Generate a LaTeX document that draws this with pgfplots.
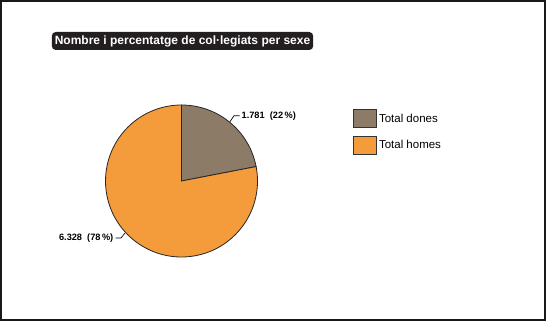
\documentclass[border=0pt]{standalone}
\usepackage{pgfplots}
\pgfplotsset{compat=1.18}
\usepackage{fontspec}
\setmainfont{Liberation Sans}
\definecolor{dones}{HTML}{8B7B67}
\definecolor{homes}{HTML}{F49B3C}
\definecolor{titlebg}{HTML}{231F20}
\begin{document}
\begin{tikzpicture}[x=1pt,y=1pt]
\def\dones{1781}
\def\homes{6328}
\pgfmathsetmacro\fracD{\dones/(\dones+\homes)}
\pgfmathsetmacro\angD{360*\fracD}
\pgfmathsetmacro\endD{90-\angD}
\draw[line width=2pt, black!90] (1,1) rectangle (545,320);
\begin{axis}[
  at={(0,0)}, anchor=south west,
  scale only axis, width=546pt, height=321pt,
  xmin=0, xmax=546, ymin=0, ymax=321,
  hide axis, clip=false,
  legend image code/.code={\draw[#1] (0pt,-9pt) rectangle (23pt,9pt);},
  legend cell align=left,
  legend style={at={(axis cs:353,212)}, anchor=north west, draw=none, fill=none,
    inner sep=0pt, row sep=8pt, column sep=2pt,
    nodes={inner sep=0pt, anchor=west},
    font=\fontsize{11.5}{13}\selectfont},
]
\addlegendimage{fill=dones, draw=black!80, line width=0.8pt}
\addlegendentry{Total dones}
\addlegendimage{fill=homes, draw=black!80, line width=0.8pt}
\addlegendentry{Total homes}
% pie slices from the data values
\filldraw[fill=dones, draw=black!85, line width=0.8pt]
  (axis cs:181.5,140) -- ++(90:76) arc[start angle=90, end angle=\endD, radius=76] -- cycle;
\filldraw[fill=homes, draw=black!85, line width=0.8pt]
  (axis cs:181.5,140) -- ++(\endD:76) arc[start angle=\endD, end angle=-270, radius=76] -- cycle;
% leader lines and labels
\draw[black, line width=0.7pt] (axis cs:230,199.3) -- (axis cs:234,205.3) -- (axis cs:239.5,205.3);
\node[anchor=west, inner sep=0pt, font=\fontsize{9.2}{10}\selectfont\bfseries] at (axis cs:241.5,205.3) {1.781\ \ (22\,\%)};
\draw[black, line width=0.7pt] (axis cs:125,88) -- (axis cs:121,83) -- (axis cs:115.5,83);
\node[anchor=east, inner sep=0pt, font=\fontsize{9.2}{10}\selectfont\bfseries] at (axis cs:113.5,83) {6.328\ \ (78\,\%)};
% title
\node[fill=titlebg, text=white, rounded corners=4pt, inner xsep=3pt, inner ysep=0pt,
  minimum height=18pt, font=\fontsize{12}{13}\selectfont\bfseries]
  at (axis cs:182.5,280) {Nombre i percentatge de col·legiats per sexe};
\end{axis}
\end{tikzpicture}
\end{document}
